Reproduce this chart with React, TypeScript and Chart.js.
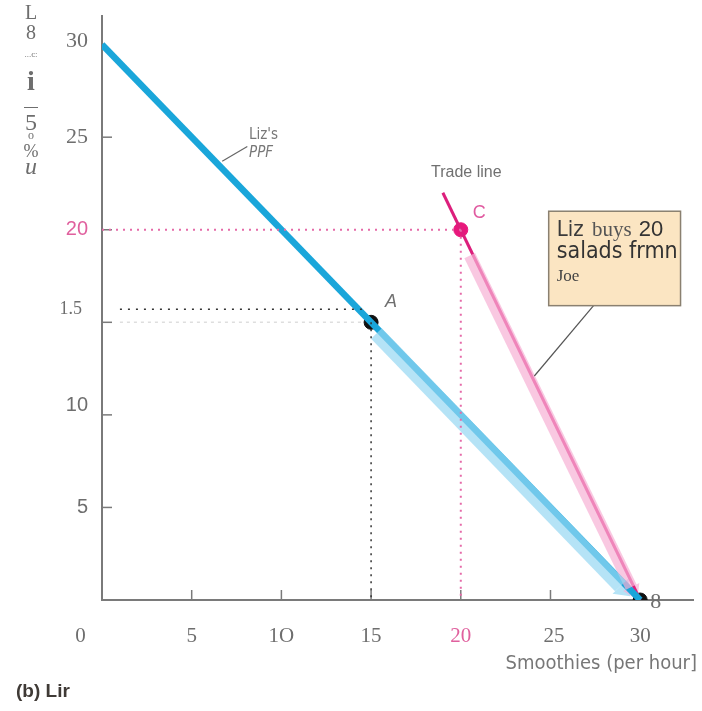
import React, { useEffect, useRef } from "react";
import { Chart, registerables } from "chart.js";

Chart.register(...registerables);

// ---- data ----
const ppfX = [0, 30];
const ppfY = [30, 0];
const tradeX = [19, 30];
const tradeY = [22, 0];
const pointA = { x: 15, y: 15 };
const pointC = { x: 20, y: 20 };
const pointB = { x: 30, y: 0 };
const guideBlackY = 15.7;
const xTickValues = [5, 10, 15, 20, 25];
const yTickValues = [25, 20, 15, 10, 5];
const xTickLabels = ["0", "5", "1O", "15", "20", "25", "30"];
const xTickLabelPos = [-1.2, 5, 10, 15, 20, 25.2, 30];
const yTickLabels = ["30", "25", "20", "1.5", "10", "5"];
const yTickLabelPos = [30.2, 25, 20, 15.7, 10.5, 5];
const blueArrowX = [15.3, 28.9];
const blueArrowY = [14.4, 0.75];
const pinkArrowX = [20.5, 29.5];
const pinkArrowY = [18.6, 0.7];
const yTitleChars = ["L", "8", "...c:", "i", "\u2014", "5", "o", "%", "u"];

const BLUE = "#1aa6da";
const PINK = "#dc1f7c";
const GRAY = "#6e6e6e";
const BLUE_HALO = "rgba(150,215,242,0.7)";
const PINK_HALO = "rgba(246,176,212,0.7)";

const overlay = {
  id: "overlay",
  beforeDatasetsDraw(chart: any) {
    const { ctx } = chart;
    const xs = chart.scales.x;
    const ys = chart.scales.y;
    const px = (v: number) => xs.getPixelForValue(v);
    const py = (v: number) => ys.getPixelForValue(v);
    ctx.save();
    // axes
    ctx.strokeStyle = "#7a7a7a";
    ctx.lineWidth = 2;
    ctx.beginPath();
    ctx.moveTo(px(0), py(31.6));
    ctx.lineTo(px(0), py(0));
    ctx.lineTo(px(33), py(0));
    ctx.stroke();
    ctx.lineWidth = 1.5;
    xTickValues.forEach((v) => {
      ctx.beginPath();
      ctx.moveTo(px(v), py(0));
      ctx.lineTo(px(v), py(0) - 10);
      ctx.stroke();
    });
    yTickValues.forEach((v) => {
      ctx.beginPath();
      ctx.moveTo(px(0), py(v));
      ctx.lineTo(px(0) + 10, py(v));
      ctx.stroke();
    });
    // arrowheads
    const head = (x: number[], y: number[], color: string, w: number) => {
      const x1 = px(x[1]), y1 = py(y[1]);
      const x0 = px(x[0]), y0 = py(y[0]);
      const a = Math.atan2(y1 - y0, x1 - x0);
      ctx.fillStyle = color;
      ctx.beginPath();
      ctx.moveTo(x1 + Math.cos(a) * 14, y1 + Math.sin(a) * 14);
      ctx.lineTo(x1 + Math.cos(a + Math.PI / 2) * w, y1 + Math.sin(a + Math.PI / 2) * w);
      ctx.lineTo(x1 + Math.cos(a - Math.PI / 2) * w, y1 + Math.sin(a - Math.PI / 2) * w);
      ctx.closePath();
      ctx.fill();
    };
    head(blueArrowX, blueArrowY, BLUE_HALO, 11);
    head(pinkArrowX, pinkArrowY, PINK_HALO, 9);
    ctx.restore();
  },
  afterDatasetsDraw(chart: any) {
    const { ctx } = chart;
    const xs = chart.scales.x;
    const ys = chart.scales.y;
    const px = (v: number) => xs.getPixelForValue(v);
    const py = (v: number) => ys.getPixelForValue(v);
    ctx.save();
    ctx.textBaseline = "middle";
    // y tick labels
    yTickLabels.forEach((t, i) => {
      const isPink = t === "20";
      ctx.fillStyle = isPink ? "#e0609e" : GRAY;
      ctx.font = isPink || t === "10" || t === "5" ? "20px 'Liberation Sans'" : t === "1.5" ? "18px 'Liberation Serif'" : "22px 'Liberation Serif'";
      ctx.textAlign = "right";
      ctx.fillText(t, t === "1.5" ? 82 : 88, py(yTickLabelPos[i]));
    });
    // x tick labels
    xTickLabels.forEach((t, i) => {
      const isPink = t === "20";
      ctx.fillStyle = isPink ? "#e0609e" : GRAY;
      ctx.font = "21px 'Liberation Serif'";
      ctx.textAlign = "center";
      ctx.fillText(t, px(xTickLabelPos[i]), 636);
    });
    // y title (stacked characters)
    ctx.fillStyle = GRAY;
    ctx.textAlign = "center";
    const yTitle = [
      { t: yTitleChars[0], y: 14, f: "20px 'Liberation Serif'" },
      { t: yTitleChars[1], y: 34, f: "20px 'Liberation Serif'" },
      { t: yTitleChars[2], y: 55, f: "9px 'Liberation Serif'" },
      { t: yTitleChars[3], y: 83, f: "bold 28px 'Liberation Serif'" },
      { t: yTitleChars[4], y: 107, f: "14px 'Liberation Sans'" },
      { t: yTitleChars[5], y: 124, f: "24px 'Liberation Serif'" },
      { t: yTitleChars[6], y: 136, f: "12px 'Liberation Serif'" },
      { t: yTitleChars[7], y: 152, f: "18px 'Liberation Serif'" },
      { t: yTitleChars[8], y: 168, f: "italic 24px 'Liberation Serif'" },
    ];
    yTitle.forEach((c) => {
      ctx.font = c.f;
      ctx.fillText(c.t, 31, c.y);
    });
    // point labels
    ctx.font = "italic 18px 'Liberation Sans'";
    ctx.fillStyle = "#707070";
    ctx.textAlign = "left";
    ctx.fillText("A", px(15) + 14, py(15) - 20);
    ctx.font = "18px 'Liberation Sans'";
    ctx.fillStyle = "#e05aa0";
    ctx.fillText("C", px(20) + 12, py(20) - 17);
    ctx.font = "22px 'Liberation Serif'";
    ctx.fillStyle = GRAY;
    ctx.fillText("8", px(30) + 10, py(0) + 2);
    // Liz's PPF
    ctx.font = "15px 'Liberation Sans Narrow', 'DejaVu Sans Condensed'";
    ctx.fillStyle = "#777";
    ctx.fillText("Liz's", 249, 135);
    ctx.font = "italic 15px 'Liberation Sans Narrow', 'DejaVu Sans Condensed'";
    ctx.fillText("PPF", 249, 153);
    ctx.strokeStyle = "#666";
    ctx.lineWidth = 1.2;
    ctx.beginPath();
    ctx.moveTo(px(6.7), py(23.7));
    ctx.lineTo(px(8.1), py(24.5));
    ctx.stroke();
    // Trade line label
    ctx.font = "16px 'Liberation Sans'";
    ctx.fillStyle = "#707070";
    ctx.fillText("Trade line", 431, 173);
    // callout
    const bx0 = px(24.9), bx1 = px(32.25), by0 = py(21.0), by1 = py(15.9);
    ctx.strokeStyle = "#555";
    ctx.lineWidth = 1.2;
    ctx.beginPath();
    ctx.moveTo(px(27.4), by1);
    ctx.lineTo(px(24.1), py(12.1));
    ctx.stroke();
    ctx.fillStyle = "#fbe5c2";
    ctx.fillRect(bx0, by0, bx1 - bx0, by1 - by0);
    ctx.strokeStyle = "#8a8070";
    ctx.lineWidth = 1.5;
    ctx.strokeRect(bx0, by0, bx1 - bx0, by1 - by0);
    ctx.fillStyle = "#3a3a3a";
    let tx = bx0 + 8;
    ctx.font = "22px 'Liberation Sans Narrow', 'DejaVu Sans Condensed'";
    ctx.fillText("Liz", tx, by0 + 19);
    tx += ctx.measureText("Liz ").width + 2;
    ctx.font = "21px 'Liberation Serif'";
    ctx.fillStyle = "#555";
    ctx.fillText("buys", tx, by0 + 19);
    tx += ctx.measureText("buys ").width + 2;
    ctx.font = "22px 'Liberation Sans'";
    ctx.fillStyle = "#333";
    ctx.fillText("20", tx, by0 + 19);
    ctx.font = "23px 'Liberation Sans Narrow', 'DejaVu Sans Condensed'";
    ctx.fillText("salads frmn", bx0 + 8, by0 + 41);
    ctx.font = "17px 'Liberation Serif'";
    ctx.fillStyle = "#444";
    ctx.fillText("Joe", bx0 + 8, by0 + 65);
    // axis title & caption
    ctx.font = "20px 'Liberation Sans Narrow', 'DejaVu Sans Condensed'";
    ctx.fillStyle = "#777";
    ctx.textAlign = "right";
    ctx.fillText("Smoothies (per hour]", 697, 664);
    ctx.font = "bold 19px 'Liberation Sans'";
    ctx.fillStyle = "#3f3a36";
    ctx.textAlign = "left";
    ctx.fillText("(b) Lir", 16, 692);
    ctx.restore();
  },
};

export default function App() {
  const ref = useRef<HTMLCanvasElement>(null);
  useEffect(() => {
    if (!ref.current) return;
    const toPts = (xs: number[], ys: number[]) => xs.map((x, i) => ({ x, y: ys[i] }));
    const chart = new Chart(ref.current, {
      type: "scatter",
      data: {
        datasets: [
          { data: toPts([0, pointC.x], [pointC.y, pointC.y]), showLine: true, borderColor: "#e56aa8", borderWidth: 2, borderDash: [2, 5], pointRadius: 0 },
          { data: toPts([pointC.x, pointC.x], [pointC.y, 0]), showLine: true, borderColor: "#e56aa8", borderWidth: 2, borderDash: [2, 5], pointRadius: 0 },
          { data: toPts([1, pointA.x - 0.5], [guideBlackY, guideBlackY]), showLine: true, borderColor: "#333", borderWidth: 1.5, borderDash: [2, 6], pointRadius: 0 },
          { data: toPts([1, pointA.x - 0.5], [pointA.y, pointA.y]), showLine: true, borderColor: "rgba(160,160,160,0.35)", borderWidth: 1.5, borderDash: [3, 4], pointRadius: 0 },
          { data: toPts([pointA.x, pointA.x], [pointA.y, 0]), showLine: true, borderColor: "#333", borderWidth: 1.5, borderDash: [2, 5], pointRadius: 0 },
          { data: toPts(blueArrowX, blueArrowY), showLine: true, borderColor: BLUE_HALO, borderWidth: 15, pointRadius: 0 },
          { data: toPts(pinkArrowX, pinkArrowY), showLine: true, borderColor: PINK_HALO, borderWidth: 12, pointRadius: 0 },
          { data: toPts(ppfX, ppfY), showLine: true, borderColor: BLUE, borderWidth: 6.5, pointRadius: 0 },
          { data: toPts(tradeX, tradeY), showLine: true, borderColor: PINK, borderWidth: 3, pointRadius: 0 },
          { data: [pointA, pointB], pointRadius: 7, pointBackgroundColor: "#111", pointBorderColor: "#111" },
          { data: [pointC], pointRadius: 7, pointBackgroundColor: "#e8187c", pointBorderColor: "#e8187c" },
        ],
      },
      options: {
        responsive: false,
        animation: false,
        layout: { padding: { left: 102, right: 0, top: 15, bottom: 111 } },
        plugins: { legend: { display: false }, tooltip: { enabled: false } },
        scales: {
          x: { type: "linear", min: 0, max: 33, display: false },
          y: { type: "linear", min: 0, max: 31.6, display: false },
        },
      },
      plugins: [overlay],
    });
    return () => chart.destroy();
  }, []);
  return (
    <div style={{ position: "absolute", left: 0, top: 0, width: 702, height: 711, background: "#fff" }}>
      <canvas ref={ref} width={702} height={711} />
    </div>
  );
}
